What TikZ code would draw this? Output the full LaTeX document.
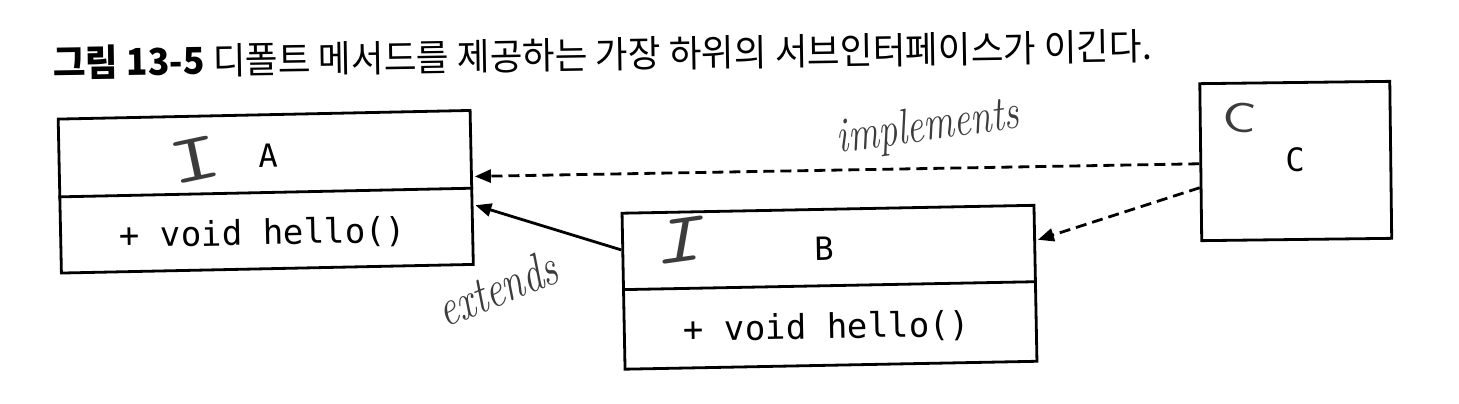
\documentclass[tikz,border=0pt]{standalone}
\usepackage{fontspec}
\usepackage{graphicx}
\newfontfamily\krfont{Noto Sans CJK KR}
\newfontfamily\monofont{DejaVu Sans Mono}
\usetikzlibrary{arrows.meta,calc}
\definecolor{hand}{HTML}{3C3C3C}
\begin{document}
\begin{tikzpicture}[x=1pt,y=-1pt,
  umlbox/.style={draw=black,line width=2.8pt,inner sep=0pt},
  divider/.style={draw=black,line width=2.8pt},
  lbl/.style={font=\monofont\fontsize{32}{36}\selectfont,inner sep=0pt},
  meth/.style={font=\monofont\fontsize{34}{38}\selectfont,inner sep=0pt},
  handtxt/.style={text=hand,inner sep=0pt},
  conn/.style={line width=2.8pt,-{Triangle[length=16pt,width=13pt]},shorten >=2pt},
  dashconn/.style={conn,dash pattern=on 11pt off 6pt}
]
\useasboundingbox (0,0) rectangle (1459,404);
\fill[white] (0,0) rectangle (1459,404);

% title
\node[anchor=base west,rotate=0.9,inner sep=0pt] (title) at (53,77)
  {\resizebox{1099pt}{\height}{\krfont\fontsize{37}{40}\selectfont{\bfseries 그림 13-5} 디폴트 메서드를 제공하는 가장 하위의 서브인터페이스가 이긴다.}};

% boxes
\node[umlbox,minimum width=412pt,minimum height=154pt,rotate=1.2] (A) at (265.75,191.75) {};
\node[umlbox,minimum width=412pt,minimum height=156pt,rotate=1.1] (B) at (829.5,287.25) {};
\node[umlbox,minimum width=190pt,minimum height=157pt,rotate=0.7] (C) at (1295.75,161) {};

\draw[divider] ($(A.north west)!0.505!(A.south west)$) -- ($(A.north east)!0.505!(A.south east)$);
\draw[divider] ($(B.north west)!0.49!(B.south west)$) -- ($(B.north east)!0.49!(B.south east)$);

% texts in boxes
\node[lbl,rotate=1.2] (Alabel) at (268,156) {A};
\node[meth,rotate=1.2] (Ameth) at (263,234) {+ void hello()};
\node[lbl,rotate=1.1] (Blabel) at (824,249) {B};
\node[meth,rotate=1.1] (Bmeth) at (827,328) {+ void hello()};
\node[lbl,rotate=0.7] (Clabel) at (1295,160) {C};

% handwritten marks
\node[handtxt,rotate=12] (Aicon) at (195,160) {\scalebox{1.5}[1]{\ttfamily\fontsize{68}{70}\selectfont I}};
\node[handtxt,rotate=8] (Bicon) at (676,241) {\scalebox{1.3}[1]{\ttfamily\itshape\fontsize{70}{72}\selectfont I}};
\node[handtxt,rotate=-5] (Cicon) at (1240,118) {\scalebox{1.35}[1]{\sffamily\fontsize{42}{44}\selectfont C}};
\node[handtxt,rotate=8] (impl) at (928,128) {\scalebox{1}[1.3]{\rmfamily\itshape\fontsize{38}{40}\selectfont implements}};
\node[handtxt,rotate=22] (ext) at (497,288) {\scalebox{1}[1.3]{\rmfamily\itshape\fontsize{40}{42}\selectfont extends}};

% connectors
\draw[dashconn] ($(C.north west)!0.51!(C.south west)$) -- ($(A.north east)!0.43!(A.south east)$);
\draw[dashconn] ($(C.north west)!0.66!(C.south west)$) -- ($(B.north east)!0.23!(B.south east)$);
\draw[conn] ($(B.north west)!0.24!(B.south west)$) -- ($(A.north east)!0.61!(A.south east)$);
\end{tikzpicture}
\end{document}
